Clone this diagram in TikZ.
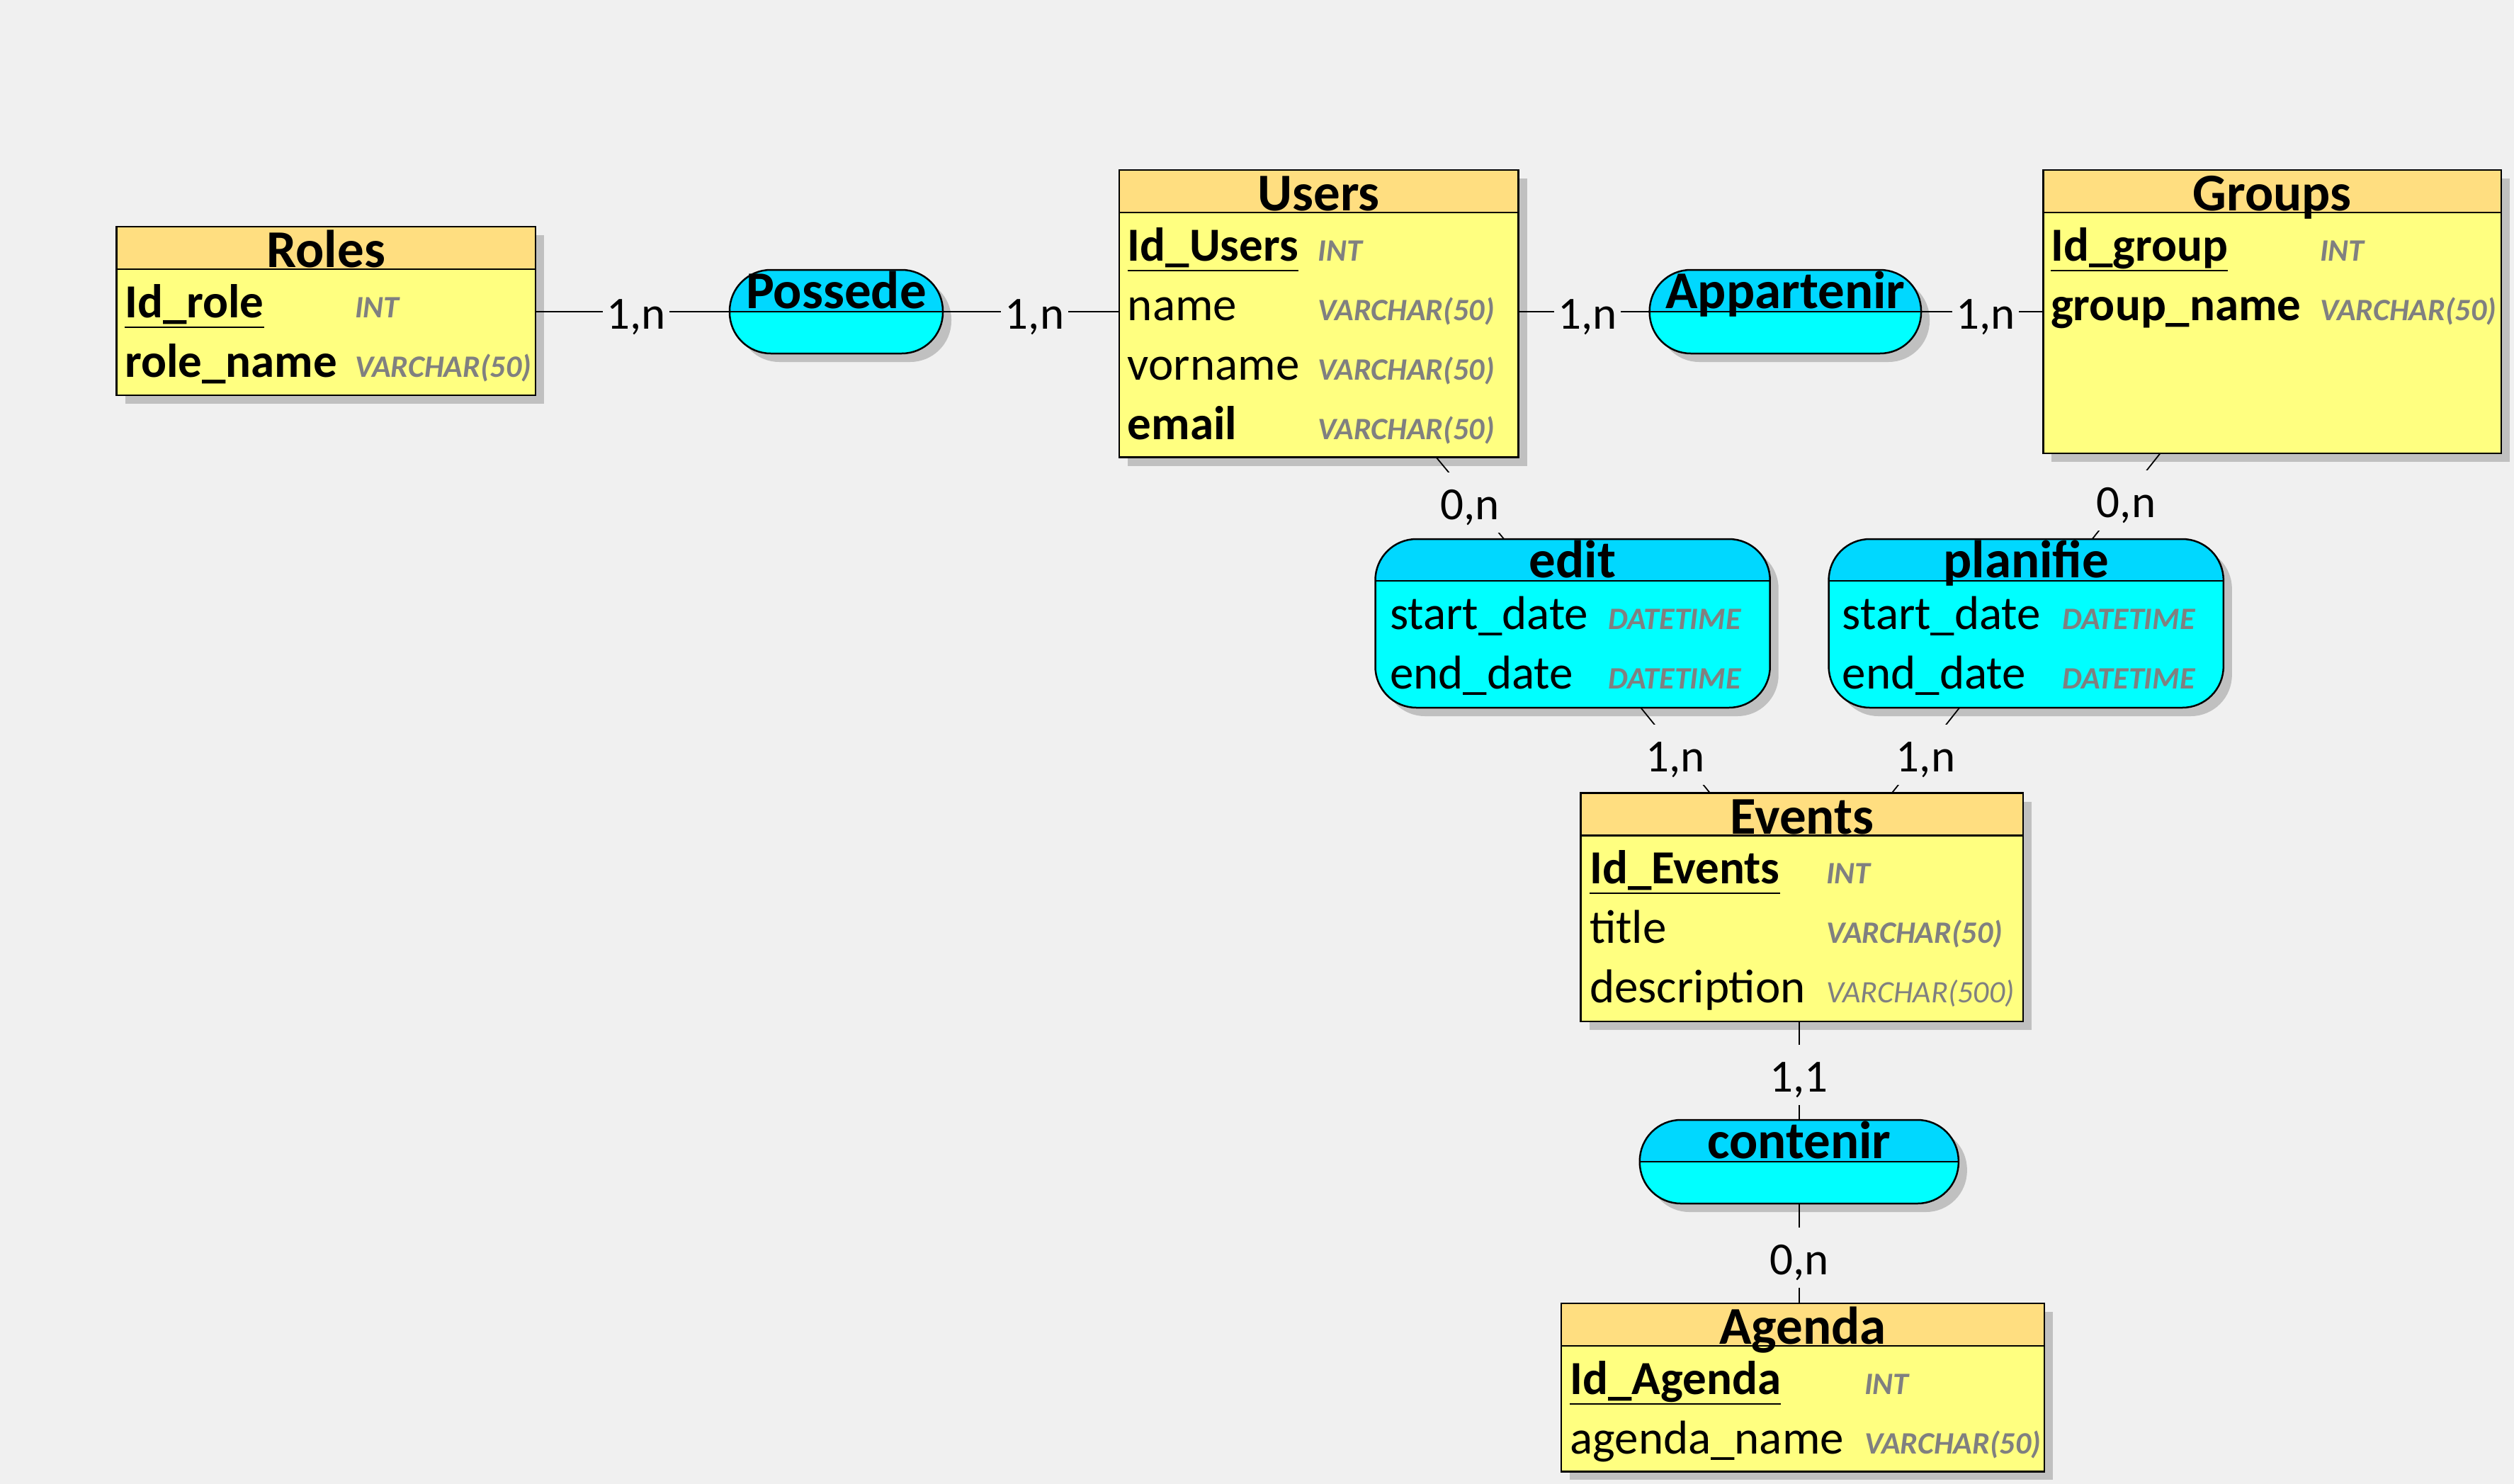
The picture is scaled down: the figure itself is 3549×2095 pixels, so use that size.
\documentclass[tikz,border=0pt]{standalone}
\usepackage{fontspec}
\setmainfont{Carlito}
\usetikzlibrary{backgrounds,calc}
\definecolor{bgc}{RGB}{240,240,240}
\definecolor{shc}{RGB}{192,192,192}
\definecolor{enthead}{RGB}{255,222,128}
\definecolor{entbody}{RGB}{255,255,128}
\definecolor{ashead}{RGB}{0,216,255}
\definecolor{asbody}{RGB}{0,255,255}
\definecolor{typegray}{RGB}{128,128,128}
\tikzset{
  boxbase/.style={rectangle, draw=black, line width=2.5pt, inner sep=0pt, outer sep=0pt},
  ent/.style={boxbase, fill=entbody, path picture={
     \fill[enthead, sharp corners] (path picture bounding box.north west) rectangle ([yshift=-60pt]path picture bounding box.north east);
     \draw[black, line width=2.5pt, sharp corners] ([yshift=-60pt]path picture bounding box.north west) -- ([yshift=-60pt]path picture bounding box.north east);}},
  asso/.style={boxbase, rounded corners=58pt, fill=asbody, path picture={
     \fill[ashead, sharp corners] (path picture bounding box.north west) rectangle ([yshift=-59pt]path picture bounding box.north east);
     \draw[black, line width=2.5pt, sharp corners] ([yshift=-59pt]path picture bounding box.north west) -- ([yshift=-59pt]path picture bounding box.north east);}},
  ttl/.style={anchor=base, inner sep=0pt, font=\fontsize{75}{80}\selectfont\bfseries},
  att/.style={anchor=base west, inner sep=0pt, font=\fontsize{67}{72}\selectfont},
  attb/.style={anchor=base west, inner sep=0pt, font=\fontsize{67}{72}\selectfont\bfseries},
  typ/.style={anchor=base west, inner sep=0pt, text=typegray, font=\fontsize{44}{48}\selectfont\bfseries\itshape},
  typr/.style={anchor=base west, inner sep=0pt, text=typegray, font=\fontsize{44}{48}\selectfont\itshape},
  conn/.style={draw=black, line width=1.8pt},
  lbl/.style={fill=bgc, inner xsep=5.5pt, inner ysep=10pt, text height=56.5pt, text depth=8.5pt, font=\fontsize{65}{70}\selectfont},
  lbld/.style={lbl, yshift=-6pt},
  uline/.style={draw=black, line width=2.5pt},
}
\newcommand\shrect[1]{\fill[shc] ([shift={(12pt,-12pt)}]#1.north west) rectangle ([shift={(12pt,-12pt)}]#1.south east);}
\newcommand\shround[1]{\fill[shc, rounded corners=58pt] ([shift={(12pt,-12pt)}]#1.north west) rectangle ([shift={(12pt,-12pt)}]#1.south east);}
\newcommand\ulineof[1]{\draw[uline] ([yshift=-14pt]#1.base west) -- ([yshift=-14pt]#1.base east);}
\begin{document}
\begin{tikzpicture}[x=1pt,y=-1pt]
\useasboundingbox (0,0) rectangle (3549,2095);

% ---------- entities and associations ----------
\node[ent, minimum width=591.5pt, minimum height=238pt] (roles) at (460.25,439) {};
\node[asso, minimum width=301pt, minimum height=118pt] (possede) at (1180.5,440) {};
\node[ent, minimum width=563.5pt, minimum height=405.7pt] (users) at (1861.75,442.85) {};
\node[asso, minimum width=383.3pt, minimum height=118pt] (appartenir) at (2520.35,440) {};
\node[ent, minimum width=646.6pt, minimum height=400pt] (groups) at (3207.7,440) {};
\node[asso, minimum width=557.2pt, minimum height=238pt] (edit) at (2220.1,880) {};
\node[asso, minimum width=557.2pt, minimum height=238pt] (planifie) at (2860.2,880) {};
\node[ent, minimum width=624.3pt, minimum height=322.4pt] (events) at (2543.85,1280.8) {};
\node[asso, minimum width=450pt, minimum height=118pt] (contenir) at (2539.8,1640) {};
\node[ent, minimum width=682pt, minimum height=237.3pt] (agenda) at (2545,1958.65) {};

% ---------- Roles ----------
\node[ttl] (roles-t) at (460.25,377) {Roles};
\node[attb] (roles-a1) at (176,448) {Id\_role};
\node[typ] (roles-y1) at (501,448) {INT};
\node[attb] (roles-a2) at (176,532) {role\_name};
\node[typ] (roles-y2) at (501,532) {VARCHAR(50)};
\ulineof{roles-a1}

% ---------- Possede ----------
\node[ttl] (possede-t) at (1180.5,435.5) {Possede};

% ---------- Users ----------
\node[ttl] (users-t) at (1861.75,297) {Users};
\node[attb] (users-a1) at (1591.7,368) {Id\_Users};
\node[typ] (users-y1) at (1860.5,368) {INT};
\node[att] (users-a2) at (1591.7,452) {name};
\node[typ] (users-y2) at (1860.5,452) {VARCHAR(50)};
\node[att] (users-a3) at (1591.7,536) {vorname};
\node[typ] (users-y3) at (1860.5,536) {VARCHAR(50)};
\node[attb] (users-a4) at (1591.7,620) {email};
\node[typ] (users-y4) at (1860.5,620) {VARCHAR(50)};
\ulineof{users-a1}

% ---------- Appartenir ----------
\node[ttl] (appartenir-t) at (2520.35,435.5) {Appartenir};

% ---------- Groups ----------
\node[ttl] (groups-t) at (3207.7,297) {Groups};
\node[attb] (groups-a1) at (2895,368) {Id\_group};
\node[typ] (groups-y1) at (3275,368) {INT};
\node[attb] (groups-a2) at (2895,452) {group\_name};
\node[typ] (groups-y2) at (3275,452) {VARCHAR(50)};
\ulineof{groups-a1}

% ---------- edit ----------
\node[ttl] (edit-t) at (2220.1,815.5) {edit};
\node[att] (edit-a1) at (1962,888) {start\_date};
\node[typ] (edit-y1) at (2270.6,888) {DATETIME};
\node[att] (edit-a2) at (1962,972) {end\_date};
\node[typ] (edit-y2) at (2270.6,972) {DATETIME};

% ---------- planifie ----------
\node[ttl] (planifie-t) at (2860.2,815.5) {planifie};
\node[att] (planifie-a1) at (2600.7,888) {start\_date};
\node[typ] (planifie-y1) at (2911.6,888) {DATETIME};
\node[att] (planifie-a2) at (2600.7,972) {end\_date};
\node[typ] (planifie-y2) at (2911.6,972) {DATETIME};

% ---------- Events ----------
\node[ttl] (events-t) at (2543.85,1177) {Events};
\node[attb] (events-a1) at (2244,1247) {Id\_Events};
\node[typ] (events-y1) at (2578,1247) {INT};
\node[att] (events-a2) at (2244,1331) {title};
\node[typ] (events-y2) at (2578,1331) {VARCHAR(50)};
\node[att] (events-a3) at (2244,1415) {description};
\node[typr] (events-y3) at (2578,1415) {VARCHAR(500)};
\ulineof{events-a1}

% ---------- contenir ----------
\node[ttl] (contenir-t) at (2539.8,1635.5) {contenir};

% ---------- Agenda ----------
\node[ttl] (agenda-t) at (2545,1897) {Agenda};
\node[attb] (agenda-a1) at (2216.3,1968) {Id\_Agenda};
\node[typ] (agenda-y1) at (2632,1968) {INT};
\node[att] (agenda-a2) at (2216.3,2052) {agenda\_name};
\node[typ] (agenda-y2) at (2632,2052) {VARCHAR(50)};
\ulineof{agenda-a1}

% ---------- connectors ----------
\draw[conn] (possede.west) -- (possede.west -| roles.east) node[lbl, midway, xshift=5pt] (l1) {1,n};
\draw[conn] (possede.east) -- (possede.east -| users.west) node[lbl, midway, xshift=5pt] (l2) {1,n};
\draw[conn] (appartenir.west) -- (appartenir.west -| users.east) node[lbl, midway, xshift=5pt] (l3) {1,n};
\draw[conn] (appartenir.east) -- (appartenir.east -| groups.west) node[lbl, midway, xshift=5pt] (l4) {1,n};
\draw[conn] (users) -- (edit) node[lbld, midway] (l5) {0,n};
\draw[conn] (groups) -- (planifie) node[lbld, midway] (l6) {0,n};
\draw[conn] (edit) -- (events) node[lbld, midway] (l7) {1,n};
\draw[conn] (planifie) -- (events) node[lbld, midway] (l8) {1,n};
\draw[conn] (contenir.north) -- (contenir.north |- events.south) node[lbld, midway] (l9) {1,1};
\draw[conn] (contenir.south) -- (contenir.south |- agenda.north) node[lbld, midway] (l10) {0,n};

% ---------- background and shadows ----------
\begin{scope}[on background layer]
\fill[bgc] (0,0) rectangle (3549,2095);
\shrect{roles}
\shrect{users}
\shrect{groups}
\shrect{events}
\shrect{agenda}
\shround{possede}
\shround{appartenir}
\shround{edit}
\shround{planifie}
\shround{contenir}
\end{scope}
\end{tikzpicture}
\end{document}
